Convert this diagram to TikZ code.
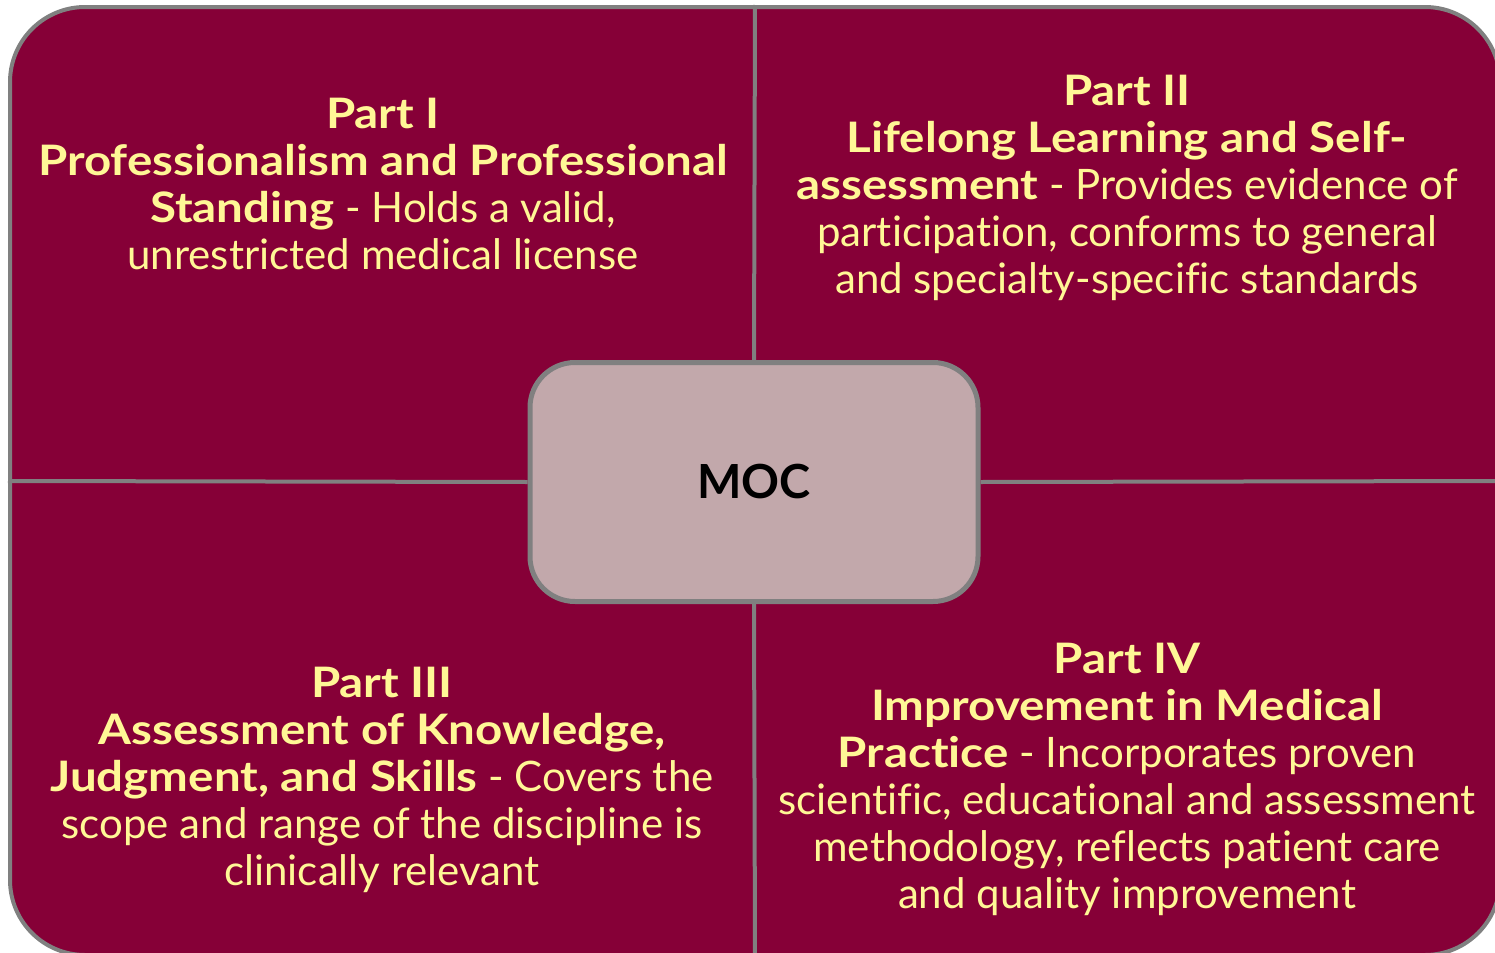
\documentclass[tikz,border=0pt]{standalone}
\usepackage{fontspec}
\setmainfont{Lato}[Ligatures=NoCommon, BoldFeatures={FakeStretch=1.13}]
\newfontfamily\mocfont{Lato}
\definecolor{crimson}{RGB}{134,0,55}
\definecolor{mocfill}{RGB}{194,168,171}
\definecolor{edgegray}{RGB}{128,128,128}
\definecolor{paleyellow}{RGB}{255,247,150}
\tikzset{
  frame/.style={draw=edgegray, line width=2pt, fill=crimson, rounded corners=37.5pt, inner sep=0pt},
  centerbox/.style={draw=edgegray, line width=2.5pt, fill=mocfill, rounded corners=22.5pt, inner sep=0pt,
    font=\mocfont\fontsize{23.5}{28}\selectfont\bfseries, text=black},
  divider/.style={draw=edgegray, line width=2pt},
  parttext/.style={align=center, inner sep=0pt, text=paleyellow, anchor=north,
    font=\fontsize{21}{23.5}\selectfont}
}
\begin{document}
\begin{tikzpicture}[x=0.5pt,y=-0.5pt]
\useasboundingbox (0,0) rectangle (1495,953);
\clip (0,0) rectangle (1495,953);
\node[frame, minimum width=745pt, minimum height=474pt] (frame) at (755,481) {};
\node[centerbox, minimum width=224pt, minimum height=119.5pt] (moc) at (754,482) {MOC};
\draw[divider] (frame.north) -- (moc.north);
\draw[divider] (moc.south) -- (frame.south);
\draw[divider] (frame.west) -- (moc.west);
\draw[divider] (moc.east) -- (frame.east);
\node[parttext] (p1) at (383,95) {\strut\textbf{Part I}\\
  \textbf{Professionalism and Professional}\\
  \textbf{Standing} - Holds a valid,\\
  unrestricted medical license};
\node[parttext] (p2) at (1127,72) {\strut\textbf{Part II}\\
  \textbf{Lifelong Learning and Self-}\\
  \textbf{assessment} - Provides evidence of\\
  participation, conforms to general\\
  and specialty-specific standards};
\node[parttext] (p3) at (382,664) {\strut\textbf{Part III}\\
  \textbf{Assessment of Knowledge,}\\
  \textbf{Judgment, and Skills} - Covers the\\
  scope and range of the discipline is\\
  clinically relevant};
\node[parttext] (p4) at (1127,640) {\strut\textbf{Part IV}\\
  \textbf{Improvement in Medical}\\
  \textbf{Practice} - Incorporates proven\\
  scientific, educational and assessment\\
  methodology, reflects patient care\\
  and quality improvement};
\end{tikzpicture}
\end{document}
